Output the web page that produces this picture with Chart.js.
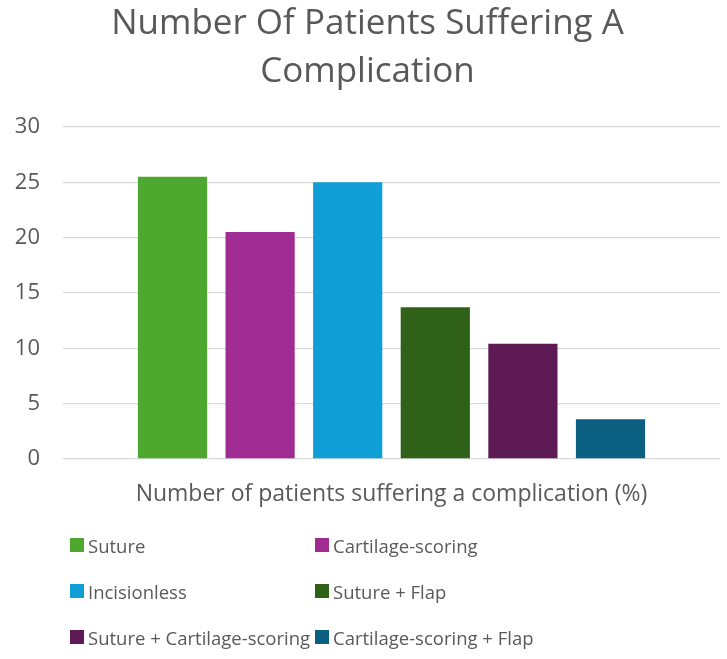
<!DOCTYPE html>
<html>
<head>
<meta charset="utf-8">
<script src="https://cdn.jsdelivr.net/npm/chart.js@4"></script>
<style>
  html, body { margin: 0; padding: 0; background: #fff; }
  #wrap { position: relative; width: 727px; height: 659px; }
  #legend {
    position: absolute; left: 70px; top: 522px; width: 640px;
    display: grid; grid-template-columns: 245px 350px; row-gap: 0;
    font-family: "Open Sans", sans-serif; font-size: 18.5px; color: #595959;
  }
  #legend .item { height: 46px; display: flex; align-items: center; white-space: nowrap; }
  #legend .box { width: 14px; height: 14px; margin-right: 4px; flex: none; }
</style>
</head>
<body>
<div id="wrap">
  <canvas id="chart_complications" width="727" height="659"></canvas>
  <div id="legend"></div>
</div>
<script>
var categories = ['Number of patients suffering a complication (%)'];
var seriesNames = ['Suture', 'Cartilage-scoring', 'Incisionless', 'Suture + Flap', 'Suture + Cartilage-scoring', 'Cartilage-scoring + Flap'];
var seriesValues = [25.5, 20.5, 25.0, 13.7, 10.4, 3.6];
var seriesColors = ['#4ea72e', '#a02b93', '#0f9ed5', '#306118', '#5e1a54', '#0b5f80'];
var yTicks = [0, 5, 10, 15, 20, 25, 30];

var chart_complications = new Chart(document.getElementById('chart_complications'), {
    type: 'bar',
    data: {
        labels: categories,
        datasets: seriesNames.map(function (name, i) {
            return {
                label: name,
                data: [seriesValues[i]],
                backgroundColor: seriesColors[i],
                borderWidth: 0
            };
        })
    },
    options: {
        animation: false,
        responsive: false,
        categoryPercentage: 0.8,
        barPercentage: 0.79,
        layout: {
            padding: { left: 15, right: 7, top: 0, bottom: 138 }
        },
        plugins: {
            legend: { display: false },
            tooltip: { enabled: false },
            title: {
                display: true,
                text: ['Number Of Patients Suffering A', 'Complication'],
                color: '#595959',
                font: { family: 'Open Sans', size: 35, weight: 'normal', lineHeight: 1.37 },
                padding: { top: 0, bottom: 31 }
            }
        },
        scales: {
            x: {
                grid: { display: false },
                border: { display: false },
                afterFit: function (scale) {
                    scale.paddingLeft = 0;
                    scale.paddingRight = 0;
                    scale.height = 62;
                },
                ticks: {
                    color: '#595959',
                    font: { family: 'Open Sans', size: 23 },
                    maxRotation: 0,
                    padding: 14
                }
            },
            y: {
                min: yTicks[0],
                max: yTicks[yTicks.length - 1],
                border: { display: false },
                grid: { color: '#d9d9d9', lineWidth: 1.3, drawTicks: false },
                afterBuildTicks: function (axis) {
                    axis.ticks = yTicks.map(function (v) { return { value: v }; });
                },
                afterFit: function (scale) {
                    scale.width = 48;
                },
                ticks: {
                    color: '#595959',
                    font: { family: 'Open Sans', size: 22 },
                    padding: 23
                }
            }
        }
    },
    plugins: [{
        id: 'whiteBackground',
        beforeDraw: (chart) => {
            const ctx = chart.canvas.getContext('2d');
            ctx.save();
            ctx.globalCompositeOperation = 'destination-over';
            ctx.fillStyle = 'white';
            ctx.fillRect(0, 0, chart.canvas.width, chart.canvas.height);
            ctx.restore();
        }
    }]
});

// legend laid out as a 2-column grid like the original
var legendEl = document.getElementById('legend');
seriesNames.forEach(function (name, i) {
    var item = document.createElement('div');
    item.className = 'item';
    var box = document.createElement('span');
    box.className = 'box';
    box.style.background = seriesColors[i];
    item.appendChild(box);
    item.appendChild(document.createTextNode(name));
    legendEl.appendChild(item);
});
</script>
</body>
</html>
